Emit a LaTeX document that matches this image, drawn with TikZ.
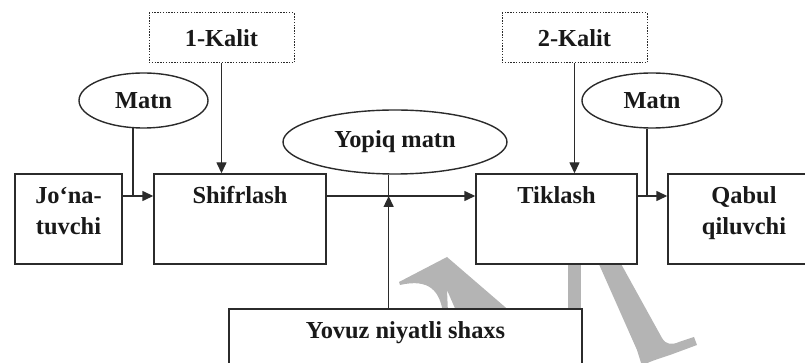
\documentclass[tikz,border=0pt]{standalone}
\usepackage{fontspec}
\setmainfont{Liberation Serif}
\usetikzlibrary{shapes.geometric,arrows.meta}
\definecolor{inkgray}{HTML}{2B2B2B}
\definecolor{markgray}{HTML}{B4B4B4}
\tikzstyle{unit-box} = [draw=inkgray, fill=white, line width=0.7pt,
    rectangle, inner sep=0pt, minimum height=45pt]
\tikzstyle{key-box} = [draw=inkgray, fill=white, line width=0.5pt,
    dash pattern=on 0.7pt off 0.7pt, rectangle,
    minimum width=72.5pt, minimum height=25pt]
\tikzstyle{text-oval} = [draw=inkgray, fill=white, line width=0.7pt,
    ellipse, inner sep=0pt, minimum height=27.5pt]
\tikzstyle{box-title} = [anchor=base, yshift=-15pt, align=center, inner sep=0pt]
\tikzstyle{box-title2} = [anchor=base, yshift=-30.5pt, align=center, inner sep=0pt]
\tikzstyle{link-line} = [draw=inkgray, line width=0.7pt]
\tikzstyle{link-arrow} = [link-line, -{Triangle[length=5.5pt,width=5pt]}]

\begin{document}
\begin{tikzpicture}[x=0.5pt, y=-0.5pt,
    font=\fontsize{12.2}{15.5}\selectfont\bfseries, text=black!90]
\useasboundingbox (0,0) rectangle (805,363);
\clip (0,0) rectangle (805,363);

% grey letter in the background
\fill[markgray] (399,282) -- (447,257) -- (512,313) -- (457,313) -- (447,290)
    -- (448,313) -- (443,313) .. controls (440,292) and (430,278) .. (400,285) -- cycle;
\fill[markgray] (568,255) rectangle (581,313);
\fill[markgray] (598,262) -- (620,262) -- (662,338)
    .. controls (666,345) and (672,345) .. (679,342) -- (694,337) -- (697,345)
    -- (670,355) .. controls (655,360) and (648,362) .. (642,366) -- (637,350) -- cycle;

% blocks
\node[unit-box, minimum width=53.5pt, label={[box-title2]north:{Jo‘na-\\tuvchi}}] (sender) at (68.5,219) {};
\node[unit-box, minimum width=86pt, label={[box-title]north:Shifrlash}] (encrypt) at (240,219) {};
\node[unit-box, minimum width=80.5pt, label={[box-title]north:Tiklash}] (decrypt) at (556.5,219) {};
\node[unit-box, minimum width=76pt, label={[box-title2]north:{Qabul\\qiluvchi}}] (receiver) at (744,219) {};
\node[unit-box, minimum width=176.5pt, minimum height=50pt, label={[box-title]north:Yovuz niyatli shaxs}] (intruder) at (405.5,359) {};

% keys and texts
\node[key-box] (key1) at (221.5,38) {1-Kalit};
\node[key-box] (key2) at (574.5,38) {2-Kalit};
\node[text-oval, minimum width=64.5pt] (plain1) at (143.5,100.5) {Matn};
\node[text-oval, minimum width=70pt] (plain2) at (652,100.5) {Matn};
\node[text-oval, minimum width=112pt, minimum height=32pt] (cipher) at (395,142) {Yopiq matn};

% connections
\coordinate (flow) at (0,196);
\draw[link-arrow] (sender.east |- flow) -- (encrypt.west |- flow);
\draw[link-line] (plain1.249) -- (plain1.249 |- flow);
\draw[link-arrow] (key1.south) -- (key1.south |- encrypt.north);
\draw[link-arrow] (encrypt.east |- flow) -- (decrypt.west |- flow);
\draw[link-line] (cipher.259) -- (cipher.259 |- flow);
\draw[link-arrow] (cipher.259 |- intruder.north) -- (cipher.259 |- flow);
\draw[link-arrow] (key2.south) -- (key2.south |- decrypt.north);
\draw[link-arrow] (decrypt.east |- flow) -- (receiver.west |- flow);
\draw[link-line] (plain2.260) -- (plain2.260 |- flow);
\end{tikzpicture}
\end{document}
